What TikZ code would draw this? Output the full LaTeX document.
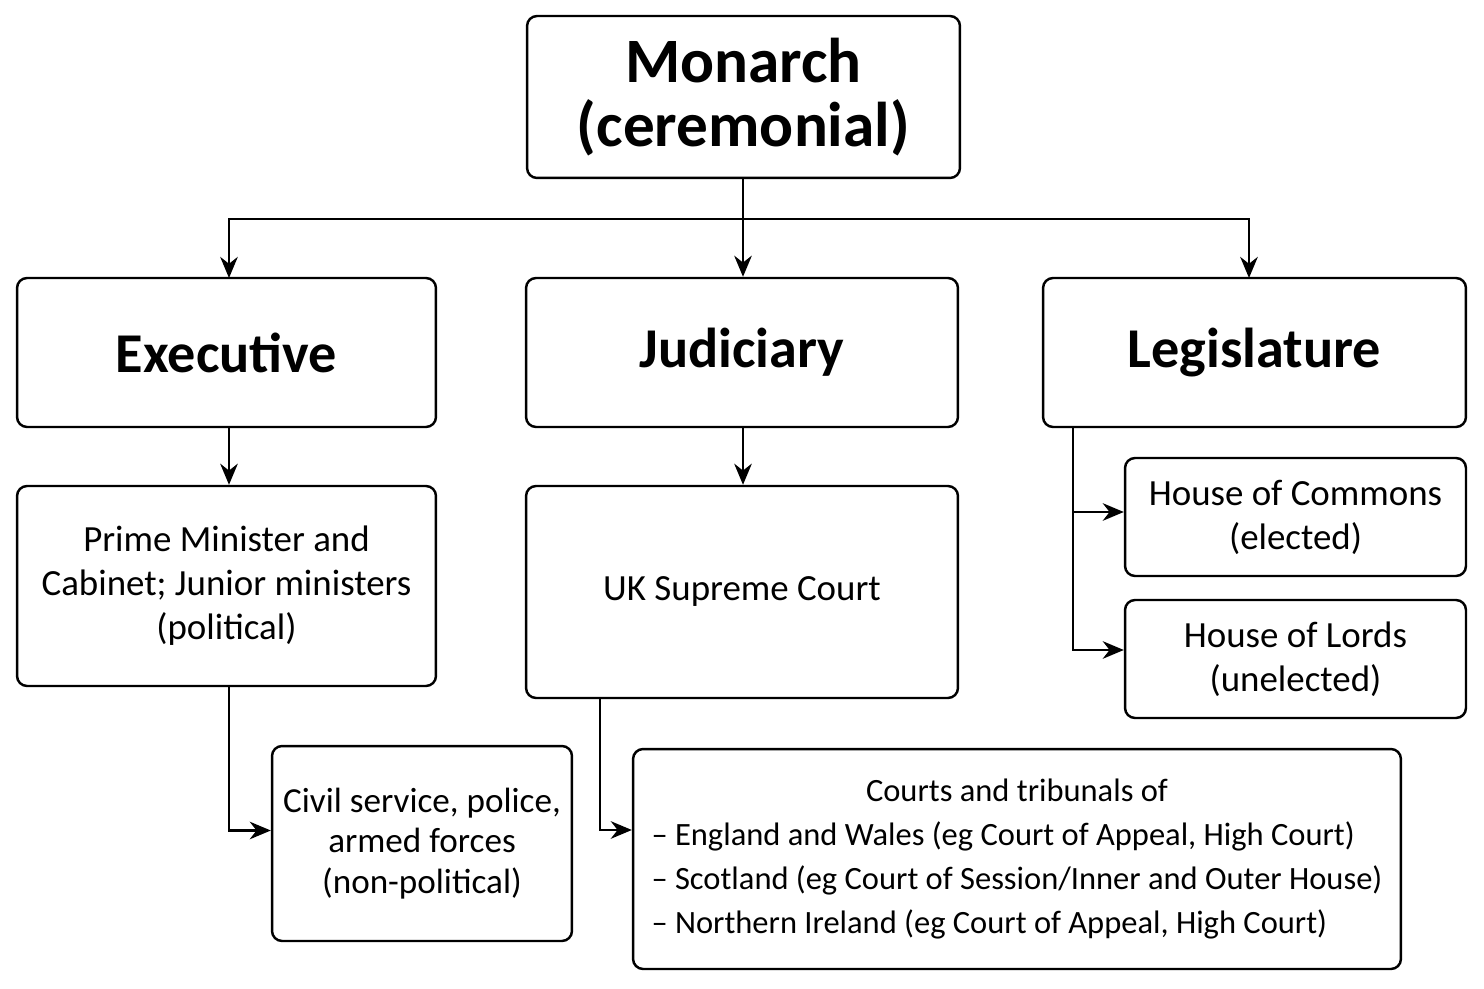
\documentclass[tikz,border=0pt]{standalone}
\usepackage{fontspec}
\setmainfont{Carlito}
\usetikzlibrary{arrows.meta,calc}
\begin{document}
\begin{tikzpicture}[x=0.02cm,y=-0.02cm,
  box/.style={draw,line width=1.4pt,rounded corners=0.2cm,align=center,inner sep=0pt},
  arr/.style={line width=1.4pt,-{Stealth[length=12pt,width=10pt]}},
  ln/.style={line width=1.4pt}]
\useasboundingbox (0,0) rectangle (1484,989);
\node[box,minimum width=8.66cm,minimum height=3.24cm,font=\fontsize{36}{36}\selectfont\bfseries] (mon) at (743.5,97) {Monarch\\(ceremonial)};
\node[box,minimum width=8.38cm,minimum height=2.98cm,font=\fontsize{32}{34}\selectfont\bfseries] (exe) at (226.5,352.5) {Executive};
\node[box,minimum width=8.64cm,minimum height=2.98cm,font=\fontsize{32}{34}\selectfont\bfseries] (jud) at (742,352.5) {Judiciary};
\node[box,minimum width=8.46cm,minimum height=2.98cm,font=\fontsize{32}{34}\selectfont\bfseries] (leg) at (1254.5,352.5) {Legislature};
\node[box,minimum width=8.38cm,minimum height=4.0cm,font=\fontsize{21}{25}\selectfont] (pm) at (226.5,586) {Prime Minister and\\Cabinet; Junior ministers\\(political)};
\node[box,minimum width=8.64cm,minimum height=4.24cm,font=\fontsize{21}{25}\selectfont] (sc) at (742,592) {UK Supreme Court};
\node[box,minimum width=6.82cm,minimum height=2.36cm,font=\fontsize{21}{25}\selectfont] (hoc) at (1295.5,517) {House of Commons\\(elected)};
\node[box,minimum width=6.82cm,minimum height=2.36cm,font=\fontsize{21}{25}\selectfont] (hol) at (1295.5,659) {House of Lords\\(unelected)};
\node[box,minimum width=6.0cm,minimum height=3.9cm,font=\fontsize{20}{23}\selectfont] (civ) at (422,843.5) {Civil service, police,\\armed forces\\(non-political)};
\node[box,minimum width=15.36cm,minimum height=4.4cm,font=\fontsize{18.5}{25}\selectfont] (crt) at (1017,859) {\begin{tabular}{@{}l@{}}\multicolumn{1}{c}{Courts and tribunals of}\\
– England and Wales (eg Court of Appeal, High Court)\\
– Scotland (eg Court of Session/Inner and Outer House)\\
– Northern Ireland (eg Court of Appeal, High Court)\end{tabular}};
\coordinate (j) at (743,219);
\draw[ln] (mon.south -| j) -- (j);
\draw[arr] (j) -- (j |- jud.north);
\draw[arr] (j) -| (229,278);
\draw[arr] (j) -| (1249,278);
\draw[arr] (exe.south -| 229,0) -- (pm.north -| 229,0);
\draw[arr] (jud.south -| j) -- (pm.north -| j);
\coordinate (ls) at ($(leg.south west)+(31,0)$);
\draw[arr] (ls) |- ($(hoc.west)+(0,-5)$);
\draw[arr] (ls) |- ($(hol.west)+(0,-9)$);
\draw[arr] (pm.south -| 229,0) |- ($(civ.west)+(0,-13)$);
\draw[arr] ($(sc.south west)+(75,0)$) |- ($(crt.west)+(0,-29)$);
\end{tikzpicture}
\end{document}
